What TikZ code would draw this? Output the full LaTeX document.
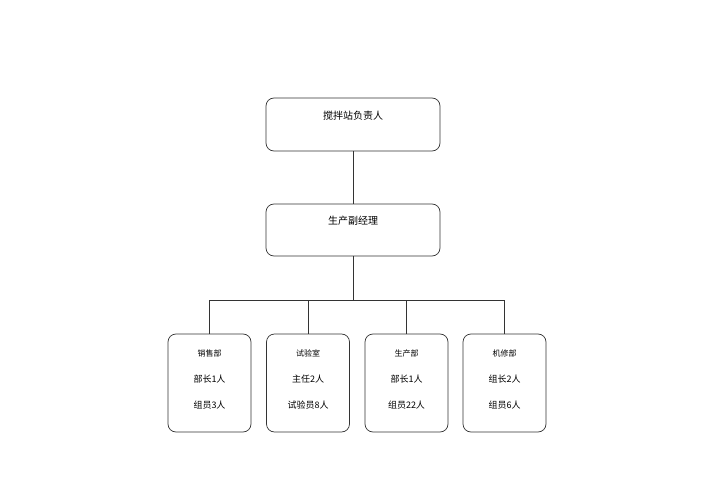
\documentclass[tikz,border=0pt]{standalone}
\usepackage{fontspec}
\newfontfamily\cjk{Noto Sans CJK SC}
\tikzset{box/.style={draw=black!80,rounded corners=8pt,line width=0.7pt,fill=white},
 ln/.style={draw=black!80,line width=0.7pt},
 t/.style={font=\cjk\fontsize{9}{10}\selectfont,inner sep=0pt}}
\begin{document}
\begin{tikzpicture}[x=1pt,y=-1pt]
\useasboundingbox (0,0) rectangle (707,500);
\node[box,minimum width=174pt,minimum height=53pt] (top) at (353,124.5) {};
\node[t,font=\cjk\fontsize{10}{12}\selectfont] at (353,116) {搅拌站负责人};
\node[box,minimum width=174pt,minimum height=52pt] (mid) at (353,230) {};
\node[t,font=\cjk\fontsize{10}{12}\selectfont] at (353,221) {生产副经理};
\draw[ln] (top) -- (mid);
\coordinate (bar) at (353,300);
\foreach \n/\x/\a/\b/\c in {a/209.5/销售部/部长1人/组员3人, b/308/试验室/主任2人/试验员8人, c/406.5/生产部/部长1人/组员22人, d/504.5/机修部/组长2人/组员6人}{
  \node[box,minimum width=83pt,minimum height=98pt] (\n) at (\x,383) {};
  \node[t,font=\cjk\fontsize{8}{10}\selectfont] at (\x,353) {\a};
  \node[t] at (\x,379) {\b};
  \node[t] at (\x,405) {\c};
}
\draw[ln] (mid.south) -- (bar);
\draw[ln] (a.north) -- (a.north|-bar) -- (d.north|-bar) -- (d.north);
\draw[ln] (b.north) -- (b.north|-bar);
\draw[ln] (c.north) -- (c.north|-bar);
\end{tikzpicture}
\end{document}
